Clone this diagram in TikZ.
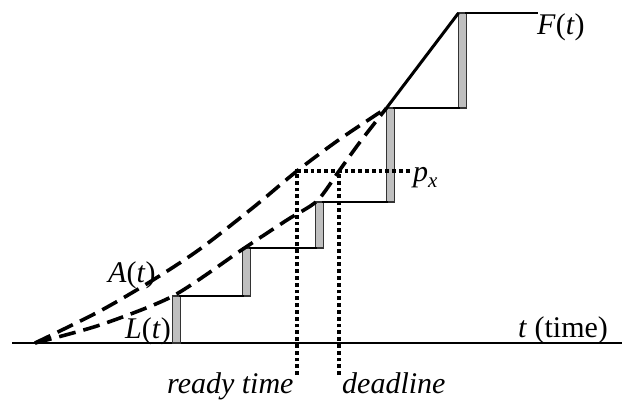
\documentclass[tikz,border=0pt]{standalone}
\usepackage{fontspec}
\setmainfont{Liberation Serif}
\begin{document}
\begin{tikzpicture}[x=1pt,y=-1pt,
  bar/.style={draw=black!80,line width=1.3pt,fill=gray!50,minimum width=8pt,inner sep=0pt,outer sep=0pt},
  stair/.style={line width=2.3pt,line cap=rect},
  curve/.style={line width=3.6pt,dash pattern=on 17pt off 8pt},
  dots/.style={line width=3.8pt,dash pattern=on 3.8pt off 3pt},
  lbl/.style={inner sep=0pt,anchor=base west,font=\fontsize{30}{36}\selectfont}]
\useasboundingbox (0,0) rectangle (623,400);
% axis
\coordinate (ax0) at (12,343);
\coordinate (ax1) at (622,343);
\draw[line width=2.3pt] (ax0) -- (ax1);
% bars
\node[bar,minimum height=47pt] (b1) at (176.5,319.5) {};
\node[bar,minimum height=48pt] (b2) at (246.5,272) {};
\node[bar,minimum height=46pt] (b3) at (319.5,225) {};
\node[bar,minimum height=94pt] (b4) at (390.5,155) {};
\node[bar,minimum height=95pt] (b5) at (462.5,60.5) {};
\coordinate (fe) at (537,13);
\draw[stair] (b1.north east) -- (b2.south west);
\draw[stair] (b2.north east) -- (b3.south west);
\draw[stair] (b3.north east) -- (b4.south west);
\draw[stair] (b4.north east) -- (b5.south west);
\draw[stair] (b5.north east) -- (fe);
% F line
\draw[line width=3pt] (b4.north west) -- (b5.north west);
% curves
\coordinate (o) at (35,343);
\coordinate (rc) at (297,171);
\coordinate (dc) at (339,171);
\draw[curve] plot[smooth,tension=0.5] coordinates {(o) (100,311) (153,280) (200,249) (255,206) (rc) (340,139) (b4.north west)};
\draw[curve] plot[smooth,tension=0.45] coordinates {(o) (100,325) (173,296) (243,249) (287,220) (317,201) (dc) (360,142) (b4.north west)};
% labels
\node[lbl] (F) at (537,34) {\textit{F}(\textit{t})};
\node[lbl] (T) at (518,337) {\textit{t} (time)};
\node[lbl] (A) at (108,282) {\textit{A}(\textit{t})};
\node[lbl] (L) at (125,338) {\textit{L}(\textit{t})};
\node[lbl] (rt) at (167,393) {\textit{ready time}};
\node[lbl] (dl) at (342,393) {\textit{deadline}};
\node[lbl] (px) at (413,181) {\textit{p}\raisebox{-0.22em}{\fontsize{21}{24}\selectfont\textit{x}}};
% dotted
\coordinate (rb) at (297,375);
\coordinate (db) at (339,375);
\coordinate (pe) at (410,171);
\draw[dots] (rb) -- (rc) -- (pe);
\draw[dots] (db) -- (dc);
\end{tikzpicture}
\end{document}
